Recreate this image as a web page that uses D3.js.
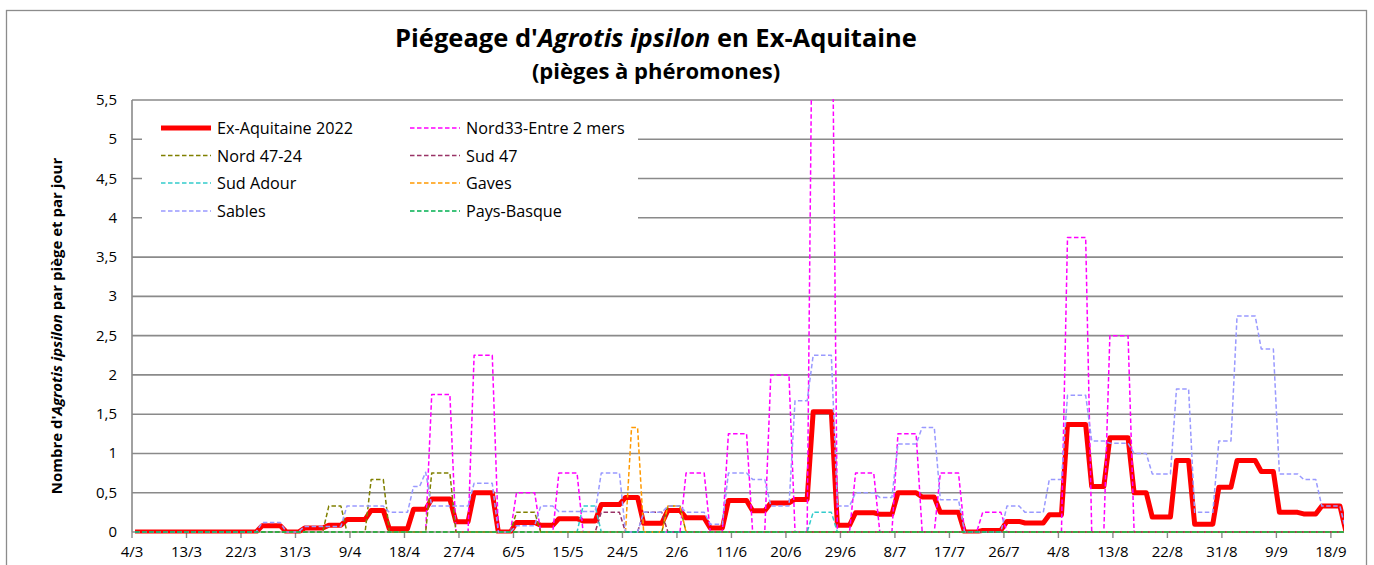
<!DOCTYPE html>
<html>
<head>
<meta charset="utf-8">
<script src="https://cdn.jsdelivr.net/npm/d3@7"></script>
<style>
  body { margin: 0; background: #fff; }
  text { font-family: "Open Sans", Lato, sans-serif; }
</style>
</head>
<body>
<svg id="chart" width="1374" height="565"></svg>
<script>
// x axis labels (every 9 days) and y ticks
var tickLabels = ['4/3', '13/3', '22/3', '31/3', '9/4', '18/4', '27/4', '6/5', '15/5', '24/5', '2/6',
    '11/6', '20/6', '29/6', '8/7', '17/7', '26/7', '4/8', '13/8', '22/8', '31/8', '9/9', '18/9'];
var yTicks = [0, 0.5, 1, 1.5, 2, 2.5, 3, 3.5, 4, 4.5, 5, 5.5];

var seriesNames = ['Ex-Aquitaine 2022', 'Nord33-Entre 2 mers', 'Nord 47-24', 'Sud 47',
    'Sud Adour', 'Gaves', 'Sables', 'Pays-Basque'];
var seriesColors = ['#ff0000', '#ff00ff', '#808000', '#993366', '#33cccc', '#ff9900', '#9999ff', '#00b050'];

// each series: [date from which the value holds, value]
var exAquitaine = [['4/3', 0], ['25/3', 0.08], ['29/3', 0], ['1/4', 0.05], ['5/4', 0.085], ['8/4', 0.16],
    ['12/4', 0.275], ['15/4', 0.04], ['19/4', 0.29], ['22/4', 0.42], ['26/4', 0.13], ['29/4', 0.5],
    ['3/5', 0], ['6/5', 0.12], ['10/5', 0.085], ['13/5', 0.17], ['17/5', 0.14], ['20/5', 0.35],
    ['24/5', 0.44], ['27/5', 0.11], ['31/5', 0.275], ['3/6', 0.18], ['7/6', 0.05], ['10/6', 0.4],
    ['14/6', 0.27], ['17/6', 0.37], ['21/6', 0.415], ['24/6', 1.53], ['28/6', 0.085], ['1/7', 0.245],
    ['5/7', 0.225], ['8/7', 0.5], ['12/7', 0.445], ['15/7', 0.25], ['19/7', 0], ['22/7', 0.02],
    ['26/7', 0.135], ['29/7', 0.115], ['2/8', 0.22], ['5/8', 1.37], ['9/8', 0.58], ['12/8', 1.2],
    ['16/8', 0.5], ['19/8', 0.19], ['23/8', 0.91], ['26/8', 0.1], ['30/8', 0.57], ['2/9', 0.91],
    ['6/9', 0.77], ['9/9', 0.25], ['13/9', 0.23], ['16/9', 0.33], ['20/9', 0]];
var nord33 = [['4/3', 0], ['22/4', 1.75], ['26/4', 0], ['29/4', 2.25], ['3/5', 0], ['6/5', 0.5],
    ['10/5', 0], ['13/5', 0.75], ['17/5', 0], ['3/6', 0.75], ['7/6', 0], ['10/6', 1.25], ['14/6', 0],
    ['17/6', 2], ['21/6', 0], ['24/6', 8], ['28/6', 0], ['1/7', 0.75], ['5/7', 0], ['8/7', 1.25],
    ['12/7', 0], ['15/7', 0.75], ['19/7', 0], ['22/7', 0.25], ['26/7', 0], ['5/8', 3.75], ['9/8', 0],
    ['12/8', 2.5], ['16/8', 0]];
var nord4724 = [['4/3', 0], ['5/4', 0.33], ['8/4', 0], ['12/4', 0.67], ['15/4', 0], ['22/4', 0.75],
    ['26/4', 0], ['6/5', 0.25], ['10/5', 0], ['31/5', 0.33], ['3/6', 0]];
var sud47 = [['4/3', 0], ['20/5', 0.25], ['24/5', 0], ['27/5', 0.25], ['31/5', 0]];
var sudAdour = [['4/3', 0], ['17/5', 0.33], ['20/5', 0], ['24/6', 0.25], ['28/6', 0]];
var gaves = [['4/3', 0], ['25/5', 1.33], ['27/5', 0], ['31/5', 0.33], ['3/6', 0]];
var sables = [['4/3', 0], ['25/3', 0.12], ['29/3', 0], ['1/4', 0.07], ['8/4', 0.33], ['15/4', 0.25],
    ['19/4', 0.58], ['21/4', 0.76], ['22/4', 0.33], ['29/4', 0.62], ['3/5', 0], ['6/5', 0.08],
    ['10/5', 0.33], ['13/5', 0.26], ['20/5', 0.75], ['24/5', 0], ['27/5', 0.25], ['31/5', 0.33],
    ['3/6', 0.25], ['7/6', 0.1], ['10/6', 0.75], ['14/6', 0.67], ['17/6', 0.33], ['21/6', 1.67],
    ['24/6', 2.25], ['28/6', 0.33], ['1/7', 0.5], ['5/7', 0.44], ['8/7', 1.12], ['12/7', 1.33],
    ['15/7', 0.41], ['19/7', 0], ['26/7', 0.33], ['29/7', 0.25], ['2/8', 0.67], ['5/8', 1.74],
    ['9/8', 1.16], ['12/8', 1.13], ['16/8', 1.0], ['19/8', 0.74], ['23/8', 1.82], ['26/8', 0.25],
    ['30/8', 1.16], ['2/9', 2.75], ['6/9', 2.33], ['9/9', 0.74], ['13/9', 0.67], ['16/9', 0.33],
    ['20/9', 0]];
var paysBasque = [['4/3', 0]];

var allSeries = [exAquitaine, nord33, nord4724, sud47, sudAdour, gaves, sables, paysBasque];

var nDays = 201;
var start = Date.UTC(2022, 2, 4);
function dayIndex(s) {
    var p = s.split('/');
    return Math.round((Date.UTC(2022, +p[1] - 1, +p[0]) - start) / 86400000);
}
// one value per day, held until the next reading
function daily(points) {
    var pts = points.map(function (p) { return [dayIndex(p[0]), p[1]]; });
    var out = [];
    for (var d = 0; d < nDays; d++) {
        var v = 0;
        pts.forEach(function (p) { if (p[0] <= d) v = p[1]; });
        out.push({ d: d, v: v });
    }
    return out;
}

var svg = d3.select('#chart');
var plot = { l: 132, r: 1343, t: 100, b: 532 };

var x = d3.scaleLinear().domain([0, 200]).range([plot.l, plot.r]);
var y = d3.scaleLinear().domain([0, 5.5]).range([plot.b, plot.t]);

// chart border
svg.append('rect')
    .attr('x', 6.5).attr('y', 10.5)
    .attr('width', 1360).attr('height', 600)
    .style('fill', 'none').style('stroke', '#8c8c8c').style('stroke-width', 1.3);

// titles
var title = svg.append('text')
    .attr('x', 656).attr('y', 47)
    .style('font-size', '25.5px').style('font-weight', 'bold')
    .style('text-anchor', 'middle');
title.append('tspan').text("Piégeage d'");
title.append('tspan').style('font-style', 'italic').text('Agrotis ipsilon');
title.append('tspan').text(' en Ex-Aquitaine');

svg.append('text')
    .attr('x', 656).attr('y', 79)
    .style('font-size', '22px').style('font-weight', 'bold')
    .style('text-anchor', 'middle')
    .text('(pièges à phéromones)');

// y axis title
var yTitle = svg.append('text')
    .attr('transform', 'translate(' + [62, 326] + ') rotate(-90)')
    .style('font-size', '15px').style('font-weight', 'bold')
    .style('text-anchor', 'middle');
yTitle.append('tspan').text("Nombre d'");
yTitle.append('tspan').style('font-style', 'italic').text('Agrotis ipsilon');
yTitle.append('tspan').text(' par piège et par jour');

// gridlines + y labels
svg.append('g')
    .selectAll('line')
    .data(yTicks)
    .enter()
    .append('line')
    .attr('x1', plot.l).attr('x2', plot.r)
    .attr('y1', function (t) { return y(t); })
    .attr('y2', function (t) { return y(t); })
    .style('stroke', '#8a8a8a').style('stroke-width', 1.6);

svg.append('g')
    .selectAll('text')
    .data(yTicks)
    .enter()
    .append('text')
    .attr('x', 117)
    .attr('y', function (t) { return y(t) + 5; })
    .style('font-size', '15px')
    .style('text-anchor', 'end')
    .text(function (t) { return String(t).replace('.', ','); });

// axes lines
svg.append('line')
    .attr('x1', plot.l).attr('x2', plot.l).attr('y1', plot.t).attr('y2', plot.b)
    .style('stroke', '#8a8a8a').style('stroke-width', 1.6);

var xTickG = svg.append('g');
tickLabels.forEach(function (lab, k) {
    var px = x(k * 9);
    xTickG.append('line')
        .attr('x1', px).attr('x2', px).attr('y1', plot.b).attr('y2', plot.b + 6)
        .style('stroke', '#8a8a8a').style('stroke-width', 1.4);
    xTickG.append('text')
        .attr('x', px).attr('y', 557)
        .style('font-size', '15px')
        .style('text-anchor', 'middle')
        .text(lab);
});

// series lines, clipped to plot area
svg.append('clipPath').attr('id', 'plotClip')
    .append('rect')
    .attr('x', plot.l).attr('y', plot.t - 1)
    .attr('width', plot.r - plot.l + 1).attr('height', plot.b - plot.t + 2.5);

var line = d3.line()
    .x(function (p) { return x(p.d + 0.5); })
    .y(function (p) { return y(p.v); });

var linesG = svg.append('g').attr('clip-path', 'url(#plotClip)');
allSeries.forEach(function (s, i) {
    linesG.append('path')
        .datum(daily(s))
        .attr('d', line)
        .style('fill', 'none')
        .style('stroke', seriesColors[i])
        .style('stroke-width', i === 0 ? 5 : 1.5)
        .style('stroke-linejoin', 'round')
        .style('stroke-dasharray', i === 0 ? null : '4.5,2.5');
});

// legend
var legend = svg.append('g');
legend.append('rect')
    .attr('x', 142).attr('y', 106).attr('width', 496).attr('height', 124)
    .style('fill', '#fff');
var legCols = [161, 410];
var legRows = [128, 155.5, 183, 211];
seriesNames.forEach(function (name, i) {
    var lx = legCols[i % 2], ly = legRows[Math.floor(i / 2)];
    legend.append('line')
        .attr('x1', lx).attr('x2', lx + 50).attr('y1', ly).attr('y2', ly)
        .style('stroke', seriesColors[i])
        .style('stroke-width', i === 0 ? 5 : 1.5)
        .style('stroke-dasharray', i === 0 ? null : '4.5,2.5');
    legend.append('text')
        .attr('x', lx + 56).attr('y', ly + 6)
        .style('font-size', '16.2px')
        .text(name);
});
</script>
</body>
</html>
